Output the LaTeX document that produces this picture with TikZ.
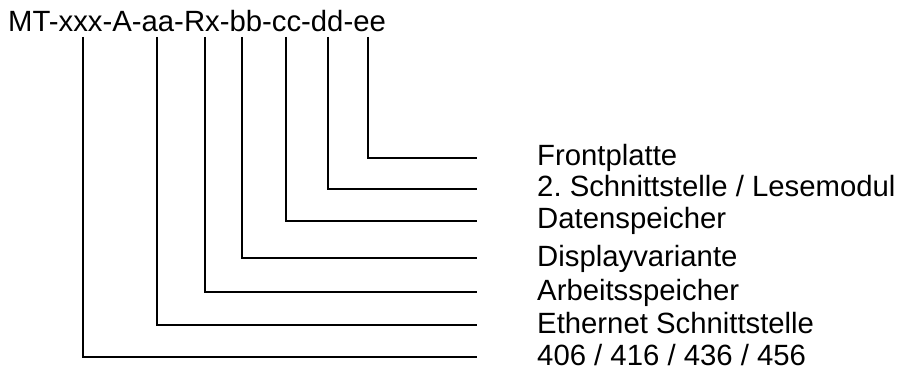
\documentclass[tikz,border=0pt]{standalone}
\usepackage{fontspec}
\setmainfont{Liberation Sans}
\frenchspacing
\begin{document}
\begin{tikzpicture}[x=1pt,y=-1pt,
  lbl/.style={anchor=base west,inner sep=0pt,font=\fontsize{29.3}{34}\selectfont},
  conn/.style={line width=1.3pt,line join=miter}]
\useasboundingbox (0,0) rectangle (901,371);
\node[lbl] (title) at (8,32) {MT-xxx-A-aa-Rx-bb-cc-dd-ee};
% tops of connectors
\coordinate (t1) at (83,37);
\coordinate (t2) at (157,37);
\coordinate (t3) at (205,37);
\coordinate (t4) at (242,37);
\coordinate (t5) at (286,37);
\coordinate (t6) at (328,37);
\coordinate (t7) at (368,37);
% right ends
\coordinate (e7) at (477,158);
\coordinate (e6) at (477,189);
\coordinate (e5) at (477,221);
\coordinate (e4) at (477,258);
\coordinate (e3) at (477,292);
\coordinate (e2) at (477,325);
\coordinate (e1) at (477,357);
% labels
\node[lbl] (l7) at (537,166) {Frontplatte};
\node[lbl] (l6) at (537,197) {2. Schnittstelle / Lesemodul};
\node[lbl] (l5) at (537,229) {Datenspeicher};
\node[lbl] (l4) at (537,266) {Displayvariante};
\node[lbl] (l3) at (537,300) {Arbeitsspeicher};
\node[lbl] (l2) at (537,333) {Ethernet Schnittstelle};
\node[lbl] (l1) at (537,365) {406 / 416 / 436 / 456};
\foreach \i in {1,...,7}{\draw[conn] (t\i) |- (e\i);}
\end{tikzpicture}
\end{document}
